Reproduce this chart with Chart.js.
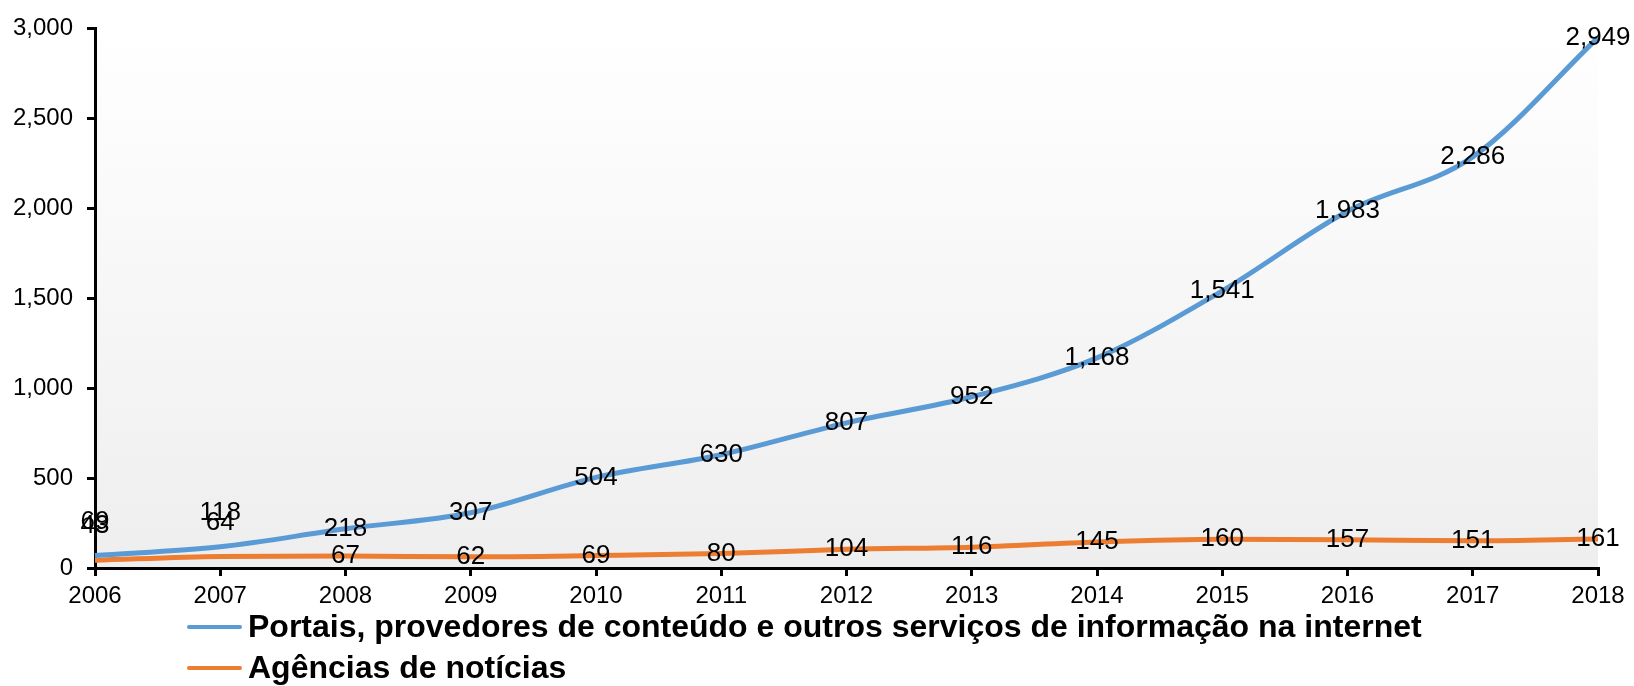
<!DOCTYPE html>
<html lang="pt">
<head>
  <meta charset="UTF-8" />
  <title>Portais e Agências de notícias</title>
  <script src="https://cdn.jsdelivr.net/npm/chart.js"></script>
  <style>
    body {
      margin: 0;
      background: #ffffff;
      font-family: 'Liberation Sans', Arial, sans-serif;
    }
    .wrap {
      position: relative;
      width: 1634px;
      height: 686px;
    }
    .legend {
      position: absolute;
      left: 187px;
      top: 606px;
      font-weight: bold;
      font-size: 32px;
      color: #000;
    }
    .legend .row {
      display: flex;
      align-items: center;
      height: 41px;
    }
    .legend .swatch {
      width: 55px;
      height: 4px;
      border-radius: 2px;
      margin-right: 6px;
    }
  </style>
</head>
<body>
  <div class="wrap">
    <canvas id="chart" width="1634" height="686"></canvas>
    <div class="legend" id="legend"></div>
  </div>

  <script>
    const years = ['2006', '2007', '2008', '2009', '2010', '2011', '2012', '2013', '2014', '2015', '2016', '2017', '2018'];
    const portais = [69, 118, 218, 307, 504, 630, 807, 952, 1168, 1541, 1983, 2286, 2949];
    const agencias = [43, 64, 67, 62, 69, 80, 104, 116, 145, 160, 157, 151, 161];
    const yTicks = [0, 500, 1000, 1500, 2000, 2500, 3000];

    const seriesNames = [
      'Portais, provedores de conteúdo e outros serviços de informação na internet',
      'Agências de notícias'
    ];
    const colors = ['#5B9BD5', '#ED7D31'];
    const font = "'Liberation Sans', Arial, sans-serif";

    // soft grey gradient behind the plot
    const plotBg = {
      id: 'plotBg',
      beforeDraw(chart) {
        const { ctx, chartArea: a } = chart;
        const g = ctx.createLinearGradient(0, a.top, 0, a.bottom);
        g.addColorStop(0, '#ffffff');
        g.addColorStop(1, '#eeeeee');
        ctx.save();
        ctx.fillStyle = g;
        ctx.fillRect(a.left, a.top, a.right - a.left, a.bottom - a.top);
        ctx.restore();
      }
    };

    // value labels on each point
    const valueLabels = {
      id: 'valueLabels',
      afterDatasetsDraw(chart) {
        const ctx = chart.ctx;
        ctx.save();
        ctx.font = '26px ' + font;
        ctx.fillStyle = '#000';
        ctx.textAlign = 'center';
        ctx.textBaseline = 'middle';
        chart.data.datasets.forEach((ds, di) => {
          chart.getDatasetMeta(di).data.forEach((pt, i) => {
            const lift = i < 2 ? 34 : 0; // first two labels sit above the lines
            ctx.fillText(ds.data[i].toLocaleString('en-US'), pt.x, pt.y - lift);
          });
        });
        ctx.restore();
      }
    };

    new Chart(document.getElementById('chart'), {
      type: 'line',
      data: {
        labels: years,
        datasets: [
          { label: seriesNames[0], data: portais, borderColor: colors[0], borderWidth: 5, pointRadius: 0, cubicInterpolationMode: 'monotone' },
          { label: seriesNames[1], data: agencias, borderColor: colors[1], borderWidth: 5, pointRadius: 0, cubicInterpolationMode: 'monotone' }
        ]
      },
      options: {
        responsive: false,
        animation: false,
        layout: { padding: { top: 21, right: 36, bottom: 68, left: 0 } },
        plugins: { legend: { display: false }, tooltip: { enabled: false } },
        scales: {
          x: {
            offset: false,
            grid: { drawOnChartArea: false, color: '#000', lineWidth: 3, tickLength: 8 },
            border: { color: '#000', width: 3 },
            ticks: { color: '#000', font: { family: font, size: 24 }, padding: 6, maxRotation: 0 },
            afterFit(scale) { scale.height = 50; }
          },
          y: {
            min: 0,
            max: 3000,
            afterBuildTicks(scale) { scale.ticks = yTicks.map(v => ({ value: v })); },
            grid: { drawOnChartArea: false, color: '#000', lineWidth: 3, tickLength: 8 },
            border: { color: '#000', width: 3 },
            ticks: {
              color: '#000',
              font: { family: font, size: 24 },
              padding: 14,
              callback: v => v.toLocaleString('en-US')
            },
            afterFit(scale) { scale.width = 95; }
          }
        }
      },
      plugins: [plotBg, valueLabels]
    });

    const legend = document.getElementById('legend');
    seriesNames.forEach((name, i) => {
      const row = document.createElement('div');
      row.className = 'row';
      const sw = document.createElement('span');
      sw.className = 'swatch';
      sw.style.background = colors[i];
      const txt = document.createElement('span');
      txt.textContent = name;
      row.appendChild(sw);
      row.appendChild(txt);
      legend.appendChild(row);
    });
  </script>
</body>
</html>
